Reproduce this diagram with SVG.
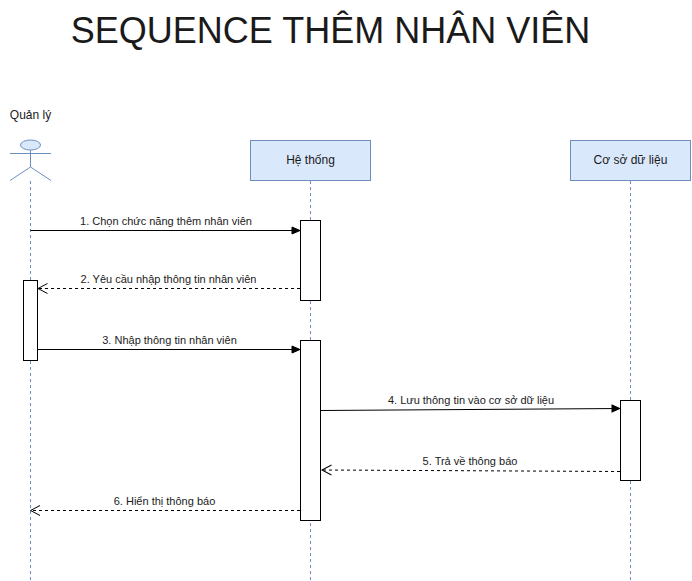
<svg xmlns="http://www.w3.org/2000/svg" width="692" height="581" viewBox="0 0 692 581">
<style>
text{font-family:"Liberation Sans",Arial,sans-serif;fill:#1a1a1a}
.l{font-size:11px;text-anchor:middle}
.n{font-size:12px;text-anchor:middle}
.life{stroke:#6c8ebf;stroke-width:1;stroke-dasharray:3 3;fill:none}
.box{fill:#dae8fc;stroke:#6c8ebf;stroke-width:1}
.act{fill:#fff;stroke:#000;stroke-width:1}
.s{stroke:#000;stroke-width:1;fill:none}
.d{stroke:#000;stroke-width:1;fill:none;stroke-dasharray:3 3}
</style>
<defs>
<marker id="f" markerUnits="userSpaceOnUse" markerWidth="10" markerHeight="10" refX="9" refY="5" orient="auto"><path d="M1 1.500L9 5L1 8.500Z" fill="#000" stroke="#000"/></marker>
<marker id="o" markerUnits="userSpaceOnUse" markerWidth="12" markerHeight="12" refX="10.500" refY="6" orient="auto"><path d="M1 1L10.500 6L1 11" fill="none" stroke="#000"/></marker>
</defs>
<text x="330.500" y="43" font-size="36" text-anchor="middle">SEQUENCE THÊM NHÂN VIÊN</text>
<g id="lifelines">
<path class="life" d="M30.500 181V580"/>
<path class="life" d="M310.500 181V580"/>
<path class="life" d="M630.500 181V580"/>
</g>
<g id="actor-quanly">
<text x="30.500" y="119" class="n">Quản lý</text>
<ellipse cx="30.500" cy="145" rx="10" ry="5" class="box"/>
<path d="M30.500 150V167M10 153.500H51M30.500 167L10 180.500M30.500 167L51 180.500" fill="none" stroke="#6c8ebf"/>
</g>
<g id="node-hethong"><rect x="250.500" y="140.500" width="120" height="40" class="box"/><text x="310.500" y="164" class="n">Hệ thống</text></g>
<g id="node-csdl"><rect x="570.500" y="140.500" width="120" height="40" class="box"/><text x="630.500" y="164" class="n">Cơ sở dữ liệu</text></g>
<g id="activations">
<rect x="300.500" y="220.500" width="20" height="80" class="act"/>
<rect x="23.500" y="280.500" width="14" height="80" class="act"/>
<rect x="300.500" y="340.500" width="20" height="180" class="act"/>
<rect x="620.500" y="400.500" width="20" height="80" class="act"/>
</g>
<g id="connectors">
<path class="s" marker-end="url(#f)" d="M30.500 230.500H300"/>
<path class="d" marker-end="url(#o)" d="M300 288.500H38"/>
<path class="s" marker-end="url(#f)" d="M38 349.500H300"/>
<path class="s" marker-end="url(#f)" d="M321 410.500L620 408.500"/>
<path class="d" marker-end="url(#o)" d="M620 471.500L322 470"/>
<path class="d" marker-end="url(#o)" d="M300 510.500H30.500"/>
</g>
<g id="labels">
<text x="166" y="225" class="l">1. Chọn chức năng thêm nhân viên</text>
<text x="168.500" y="283" class="l">2. Yêu cầu nhập thông tin nhân viên</text>
<text x="169.500" y="344" class="l">3. Nhập thông tin nhân viên</text>
<text x="471" y="404" class="l">4. Lưu thông tin vào cơ sở dữ liệu</text>
<text x="470" y="465" class="l">5. Trả về thông báo</text>
<text x="164.500" y="505" class="l">6. Hiển thị thông báo</text>
</g>
</svg>
